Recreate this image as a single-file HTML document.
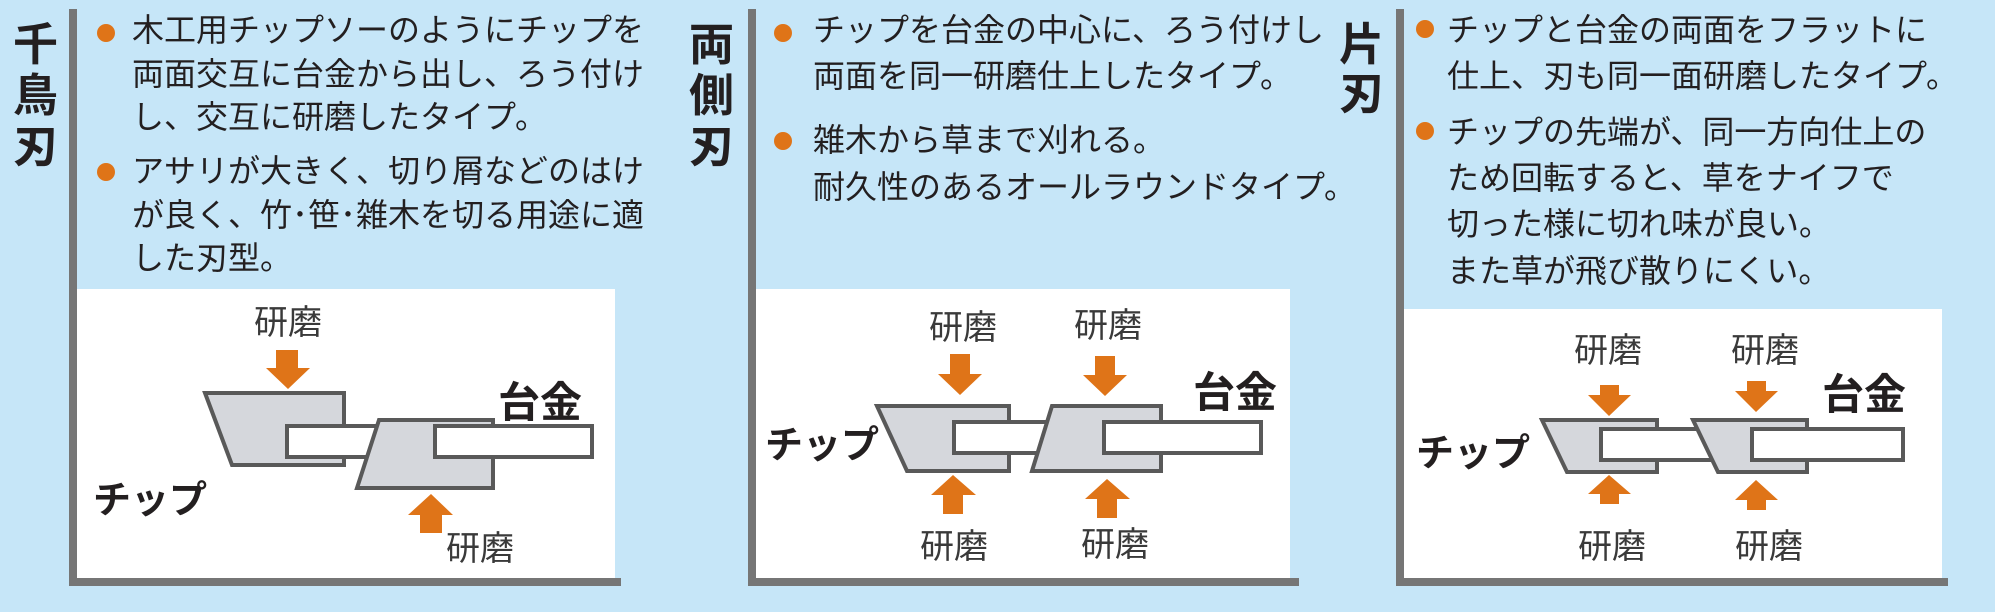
<!DOCTYPE html>
<html><head><meta charset="utf-8"><style>
html,body{margin:0;padding:0;background:#c6e6f8;}
svg{display:block;}
text{font-family:"Liberation Sans","Noto Sans CJK JP",sans-serif;}
.b{font-size:32px;fill:#231f20;}
.t{font-size:45px;font-weight:bold;fill:#231f20;}
.k{font-size:34px;fill:#3a3a3a;}
.d{font-size:42px;font-weight:bold;fill:#231f20;}
.c{font-size:38px;font-weight:bold;fill:#231f20;}
.chip{fill:#d5d7dc;stroke:#595959;stroke-width:4;stroke-linejoin:miter;}
.rect{fill:#fff;stroke:#595959;stroke-width:4;}
.ar{fill:#df7418;}
</style></head><body>
<svg width="1995" height="612" viewBox="0 0 1995 612">
<rect width="1995" height="612" fill="#c6e6f8"/>

<!-- Panel 1 -->
<rect x="77" y="289" width="538" height="289" fill="#fff"/>
<rect x="69" y="9" width="8" height="577" fill="#767676"/>
<rect x="69" y="578" width="552" height="8" fill="#767676"/>
<text class="t" x="13" y="60">千</text>
<text class="t" x="13" y="111">鳥</text>
<text class="t" x="13" y="162">刃</text>
<circle cx="106" cy="33" r="9" fill="#df7418"/>
<circle cx="106" cy="172" r="9" fill="#df7418"/>
<text class="b" x="132" y="41">木工用チップソーのようにチップを</text>
<text class="b" x="132" y="85">両面交互に台金から出し、ろう付け</text>
<text class="b" x="132" y="128">し、交互に研磨したタイプ。</text>
<text class="b" x="132" y="182">アサリが大きく、切り屑などのはけ</text>
<text class="b" x="132" y="226">が良く、竹･笹･雑木を切る用途に適</text>
<text class="b" x="132" y="269">した刃型。</text>

<text class="k" x="254" y="334">研磨</text>
<path class="ar" d="M276,350 L298,350 L298,368 L310,368 L288,389 L266,368 L276,368 Z"/>
<polygon class="chip" points="205,393 344,393 344,465 232,465"/>
<rect class="rect" x="287" y="426" width="100" height="31"/>
<polygon class="chip" points="379,420 493,420 493,488 357,488"/>
<rect class="rect" x="435" y="426" width="157" height="31"/>
<text class="d" x="498" y="417">台金</text>
<text class="c" x="93" y="513">チップ</text>
<path class="ar" d="M420,533 L442,533 L442,515 L453,515 L431,494 L408,515 L420,515 Z"/>
<text class="k" x="446" y="560">研磨</text>

<!-- Panel 2 -->
<rect x="756" y="289" width="534" height="289" fill="#fff"/>
<rect x="748" y="9" width="8" height="577" fill="#767676"/>
<rect x="748" y="578" width="551" height="8" fill="#767676"/>
<text class="t" x="689" y="60">両</text>
<text class="t" x="689" y="111">側</text>
<text class="t" x="689" y="162">刃</text>
<circle cx="783" cy="33" r="9" fill="#df7418"/>
<circle cx="783" cy="141" r="9" fill="#df7418"/>
<text class="b" x="813" y="41">チップを台金の中心に、ろう付けし</text>
<text class="b" x="813" y="87">両面を同一研磨仕上したタイプ。</text>
<text class="b" x="813" y="151">雑木から草まで刈れる。</text>
<text class="b" x="813" y="198">耐久性のあるオールラウンドタイプ。</text>

<text class="k" x="929" y="339">研磨</text>
<text class="k" x="1074" y="337">研磨</text>
<path class="ar" d="M950,354 L970,354 L970,374 L982,374 L960,395 L938,374 L950,374 Z"/>
<path class="ar" d="M1095,356 L1115,356 L1115,375 L1127,375 L1105,396 L1083,375 L1095,375 Z"/>
<polygon class="chip" points="877,406 1009,406 1009,471 907,471"/>
<rect class="rect" x="954" y="422" width="100" height="31"/>
<polygon class="chip" points="1052,406 1161,406 1161,471 1032,471"/>
<rect class="rect" x="1104" y="422" width="157" height="31"/>
<text class="d" x="1193" y="407">台金</text>
<text class="c" x="765" y="458">チップ</text>
<path class="ar" d="M943,514 L963,514 L963,495 L976,495 L953,475 L931,495 L943,495 Z"/>
<path class="ar" d="M1097,518 L1117,518 L1117,499 L1130,499 L1107,479 L1085,499 L1097,499 Z"/>
<text class="k" x="920" y="558">研磨</text>
<text class="k" x="1081" y="556">研磨</text>
<text class="t" x="1339" y="60">片</text>
<text class="t" x="1339" y="109">刃</text>

<!-- Panel 3 -->
<rect x="1404" y="309" width="538" height="269" fill="#fff"/>
<rect x="1396" y="9" width="8" height="577" fill="#767676"/>
<rect x="1396" y="578" width="552" height="8" fill="#767676"/>
<circle cx="1425" cy="29" r="9" fill="#df7418"/>
<circle cx="1425" cy="131" r="9" fill="#df7418"/>
<text class="b" x="1447" y="41">チップと台金の両面をフラットに</text>
<text class="b" x="1447" y="87">仕上、刃も同一面研磨したタイプ。</text>
<text class="b" x="1447" y="143">チップの先端が、同一方向仕上の</text>
<text class="b" x="1447" y="189">ため回転すると、草をナイフで</text>
<text class="b" x="1447" y="235">切った様に切れ味が良い。</text>
<text class="b" x="1447" y="282">また草が飛び散りにくい。</text>

<text class="k" x="1574" y="362">研磨</text>
<text class="k" x="1731" y="362">研磨</text>
<path class="ar" d="M1600,385 L1619,385 L1619,395 L1631,395 L1609,416 L1588,395 L1600,395 Z"/>
<path class="ar" d="M1747,381 L1766,381 L1766,391 L1778,391 L1756,412 L1735,391 L1747,391 Z"/>
<polygon class="chip" points="1542,420 1657,420 1657,472 1567,472"/>
<rect class="rect" x="1601" y="429" width="120" height="31"/>
<polygon class="chip" points="1693,420 1807,420 1807,472 1718,472"/>
<rect class="rect" x="1752" y="429" width="151" height="31"/>
<text class="d" x="1822" y="409">台金</text>
<text class="c" x="1416" y="466">チップ</text>
<path class="ar" d="M1600,504 L1619,504 L1619,494 L1631,494 L1609,475 L1588,494 L1600,494 Z"/>
<path class="ar" d="M1747,510 L1766,510 L1766,500 L1778,500 L1756,480 L1735,500 L1747,500 Z"/>
<text class="k" x="1578" y="558">研磨</text>
<text class="k" x="1735" y="558">研磨</text>
</svg>
</body></html>
